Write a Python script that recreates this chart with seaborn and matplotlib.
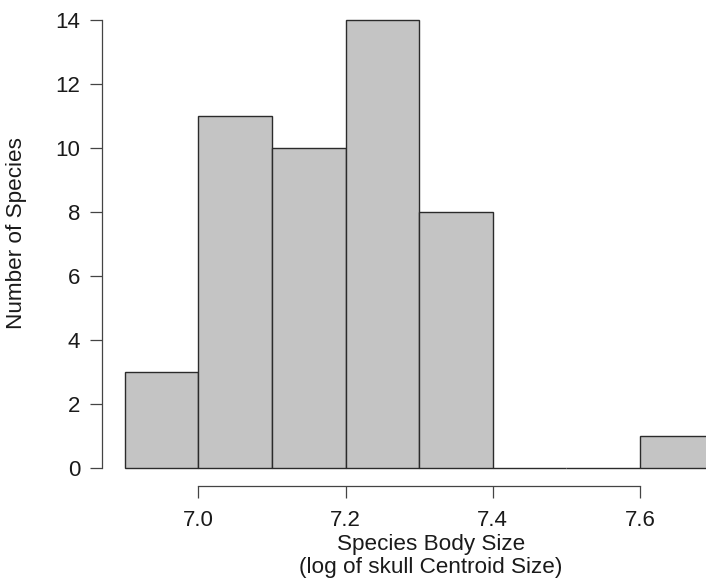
import matplotlib
matplotlib.use("Agg")
import matplotlib.pyplot as plt
import seaborn as sns
import numpy as np
import pandas as pd

# Data
bin_edges = [6.9, 7.0, 7.1, 7.2, 7.3, 7.4, 7.5, 7.6, 7.7]
counts = [3, 11, 10, 14, 8, 0, 0, 1]
x_ticks = [7.0, 7.2, 7.4, 7.6]
x_tick_labels = ["7.0", "7.2", "7.4", "7.6"]
y_ticks = [0, 2, 4, 6, 8, 10, 12, 14]

centers = [(a + b) / 2 for a, b in zip(bin_edges[:-1], bin_edges[1:])]
df = pd.DataFrame({"size": centers, "n": counts})

sns.set_style("ticks")
plt.rcParams["font.family"] = ["Liberation Sans", "DejaVu Sans"]

W, H = 706, 582
fig = plt.figure(figsize=(W / 100, H / 100), dpi=100)
left_px, bottom_px = 101.7, 486
ax = fig.add_axes([left_px / W, (H - bottom_px) / H, 1 - left_px / W, bottom_px / H])

sns.histplot(data=df, x="size", weights="n", bins=bin_edges, ax=ax,
             color="#c4c4c4", edgecolor="#2b2b2b", linewidth=1.0, alpha=1.0)

# axis scaling derived from pixel layout
px_per_01 = (640 - 198.3) / 6
x0 = 7.0 - (198.3 - left_px) / px_per_01 * 0.1
x1 = 7.0 + (W - 198.3) / px_per_01 * 0.1
ax.set_xlim(x0, x1)
px_per_unit = (467.7 - 20) / 14
ax.set_ylim(0 - (bottom_px - 467.7) / px_per_unit, 14 + 20 / px_per_unit)

ax.set_xticks(x_ticks)
ax.set_xticklabels(x_tick_labels)
ax.set_yticks(y_ticks)
ax.set_yticklabels([str(v) for v in y_ticks])

for s in ["top", "right"]:
    ax.spines[s].set_visible(False)
ax.spines["left"].set_bounds(0, 14)
ax.spines["bottom"].set_bounds(7.0, 7.6)
for s in ["left", "bottom"]:
    ax.spines[s].set_color("#444444")
    ax.spines[s].set_linewidth(0.9)

ax.tick_params(axis="both", length=8.6, width=0.9, color="#444444",
               labelsize=16, labelcolor="#1a1a1a")
ax.tick_params(axis="x", pad=9)
ax.tick_params(axis="y", pad=7)

ax.set_xlabel("")
ax.set_ylabel("")
fig.text(17 / W, 1 - 233 / H, "Number of Species", rotation=90, ha="center",
         va="center", fontsize=16.2, color="#1a1a1a")
fig.text(431 / W, 4 / H, "Species Body Size\n(log of skull Centroid Size)",
         ha="center", va="bottom", fontsize=16.2, color="#1a1a1a", linespacing=1.12)

fig.savefig("out.png", dpi=100)
